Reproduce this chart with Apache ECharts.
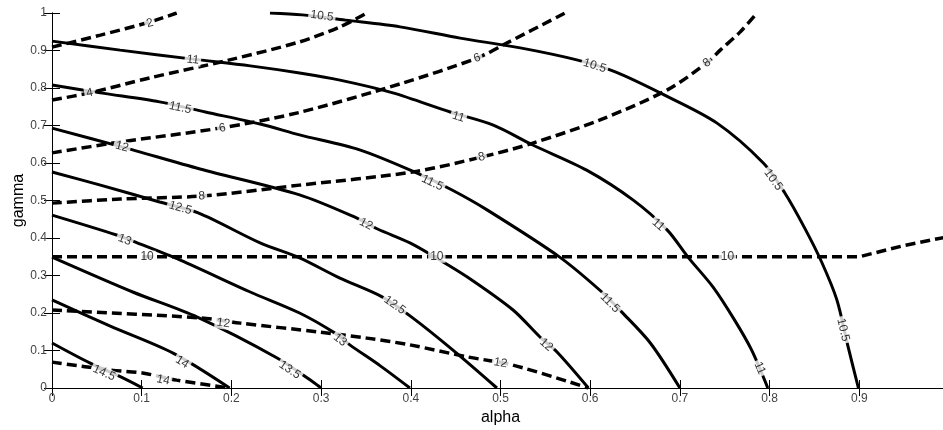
<!DOCTYPE html>
<html>
<head>
<meta charset="utf-8">
<script src="https://cdn.jsdelivr.net/npm/echarts@6/dist/echarts.min.js"></script>
<style>
  html, body { margin: 0; padding: 0; background: #fff; }
  #main { width: 943px; height: 430px; }
</style>
</head>
<body>
<div id="main"></div>
<script>
// contour levels drawn solid
const solidLevels = ['10.5', '11', '11.5', '12', '12.5', '13', '13.5', '14', '14.5']
const solid105 = [[0.243, 1.0], [0.279, 0.995], [0.327, 0.981], [0.388, 0.963], [0.455, 0.933], [0.522, 0.907], [0.585, 0.875], [0.628, 0.843], [0.683, 0.781], [0.741, 0.707], [0.793, 0.600], [0.817, 0.520], [0.839, 0.427], [0.858, 0.336], [0.875, 0.235], [0.887, 0.115], [0.899, 0]]
const solid11 = [[0, 0.925], [0.076, 0.901], [0.157, 0.877], [0.221, 0.859], [0.276, 0.840], [0.321, 0.821], [0.380, 0.787], [0.444, 0.736], [0.492, 0.701], [0.536, 0.648], [0.596, 0.581], [0.648, 0.501], [0.686, 0.421], [0.709, 0.349], [0.737, 0.269], [0.761, 0.181], [0.780, 0.101], [0.798, 0]]
const solid115 = [[0, 0.808], [0.054, 0.787], [0.120, 0.763], [0.171, 0.736], [0.232, 0.704], [0.276, 0.675], [0.343, 0.635], [0.407, 0.573], [0.446, 0.528], [0.485, 0.475], [0.566, 0.349], [0.613, 0.256], [0.635, 0.203], [0.667, 0.12], [0.700, 0]]
const solid12 = [[0, 0.693], [0.078, 0.643], [0.165, 0.584], [0.276, 0.515], [0.340, 0.453], [0.363, 0.424], [0.399, 0.387], [0.427, 0.349], [0.463, 0.296], [0.514, 0.208], [0.544, 0.136], [0.563, 0.096], [0.598, 0]]
const solid125 = [[0, 0.576], [0.054, 0.541], [0.120, 0.496], [0.163, 0.467], [0.232, 0.387], [0.276, 0.347], [0.321, 0.293], [0.368, 0.243], [0.401, 0.189], [0.447, 0.101], [0.496, 0]]
const solid13 = [[0, 0.461], [0.072, 0.408], [0.095, 0.387], [0.143, 0.341], [0.221, 0.256], [0.276, 0.2], [0.315, 0.147], [0.332, 0.115], [0.366, 0.059], [0.399, 0]]
const solid135 = [[0, 0.349], [0.090, 0.256], [0.162, 0.189], [0.251, 0.080], [0.291, 0.016], [0.3, 0]]
const solid14 = [[0, 0.235], [0.065, 0.165], [0.135, 0.093], [0.198, 0]]
const solid145 = [[0, 0.12], [0.042, 0.067], [0.079, 0.027], [0.101, 0]]
const solidLines = [solid105, solid11, solid115, solid12, solid125, solid13, solid135, solid14, solid145]
// where the in-line labels sit, per solid level
const solidLabelPos = [
  [[0.301, 0.992], [0.605, 0.859], [0.804, 0.555], [0.882, 0.155]],
  [[0.157, 0.875], [0.453, 0.723], [0.676, 0.435], [0.789, 0.053]],
  [[0.143, 0.747], [0.424, 0.547], [0.622, 0.227]],
  [[0.078, 0.643], [0.35, 0.437], [0.551, 0.115]],
  [[0.143, 0.48], [0.382, 0.221]],
  [[0.081, 0.395], [0.321, 0.128]],
  [[0.265, 0.048]],
  [[0.145, 0.069]],
  [[0.058, 0.04]]
]

// contour levels drawn dashed
const dashedLevels = ['2', '4', '6', '8', '10', '12', '14']
const dashed2 = [[0, 0.909], [0.054, 0.941], [0.109, 0.976], [0.139, 1.0]]
const dashed4 = [[0, 0.768], [0.042, 0.787], [0.109, 0.827], [0.198, 0.875], [0.276, 0.923], [0.321, 0.963], [0.351, 1.0]]
const dashed6 = [[0, 0.627], [0.076, 0.656], [0.187, 0.693], [0.276, 0.735], [0.388, 0.811], [0.474, 0.88], [0.507, 0.92], [0.572, 1.0]]
const dashed8 = [[0, 0.493], [0.076, 0.504], [0.167, 0.512], [0.276, 0.541], [0.402, 0.576], [0.479, 0.616], [0.536, 0.653], [0.611, 0.715], [0.686, 0.795], [0.730, 0.867], [0.745, 0.901], [0.767, 0.949], [0.786, 1.0]]
const dashed10 = [[0, 0.35], [0.9, 0.35], [0.95, 0.38], [1.0, 0.404]]
const dashed12 = [[0, 0.208], [0.165, 0.187], [0.21, 0.173], [0.299, 0.149], [0.351, 0.133], [0.399, 0.115], [0.463, 0.083], [0.514, 0.061], [0.598, 0]]
const dashed14 = [[0, 0.069], [0.065, 0.048], [0.101, 0.04], [0.139, 0.021], [0.198, 0]]
const dashedLines = [dashed2, dashed4, dashed6, dashed8, dashed10, dashed12, dashed14]
const dashedLabelPos = [
  [[0.109, 0.973]],
  [[0.042, 0.787]],
  [[0.19, 0.693], [0.474, 0.88]],
  [[0.167, 0.512], [0.479, 0.616], [0.73, 0.867]],
  [[0.106, 0.35], [0.429, 0.35], [0.753, 0.35]],
  [[0.191, 0.173], [0.5, 0.067]],
  [[0.124, 0.021]]
]

const FONT = '"Liberation Sans", Arial, sans-serif'
let chart = echarts.init(document.getElementById('main'))

let lineSeries = []
solidLines.forEach(pts => {
  lineSeries.push({
    type: 'line', data: pts, showSymbol: false, silent: true, smooth: 0.3,
    lineStyle: { color: '#000', width: 3 }, z: 2
  })
})
dashedLines.forEach((pts, i) => {
  lineSeries.push({
    type: 'line', data: pts, showSymbol: false, silent: true,
    smooth: dashedLevels[i] === '10' ? false : 0.3,
    lineStyle: { color: '#000', width: 3.5, type: [10, 5] }, z: 2
  })
})

// every label with the line it belongs to
let allLabels = []
solidLabelPos.forEach((list, i) => list.forEach(p => allLabels.push({ name: solidLevels[i], pos: p, line: solidLines[i] })))
dashedLabelPos.forEach((list, i) => list.forEach(p => allLabels.push({ name: dashedLevels[i], pos: p, line: dashedLines[i] })))

function labelSeries (rotations) {
  return {
    type: 'scatter', symbolSize: 0, silent: true, z: 5,
    data: allLabels.map((l, k) => ({
      name: l.name, value: l.pos,
      label: { rotate: rotations ? rotations[k] : 0 }
    })),
    label: {
      show: true, position: 'inside', formatter: '{b}',
      color: '#000', fontFamily: FONT, fontSize: 12,
      backgroundColor: '#fff', padding: [0, 2]
    }
  }
}

let axisCommon = {
  type: 'value', min: 0, max: 1, interval: 0.1,
  splitLine: { show: false },
  axisLine: { lineStyle: { color: '#000', width: 1 } },
  axisTick: { inside: true, length: 8, lineStyle: { color: '#000' } }
}

let opts = {
  animation: false,
  backgroundColor: '#fff',
  grid: { left: 52, top: 13, width: 897, height: 375, outerBoundsMode: 'none' },
  xAxis: [
    Object.assign({}, axisCommon, {
      position: 'bottom',
      name: 'alpha', nameLocation: 'middle', nameGap: 21,
      nameTextStyle: { color: '#000', fontSize: 16, fontFamily: FONT },
      axisLabel: { color: '#444', fontSize: 12, fontFamily: FONT, margin: 5, showMaxLabel: false }
    }),
    Object.assign({}, axisCommon, { position: 'top', axisLabel: { show: false } })
  ],
  yAxis: [
    Object.assign({}, axisCommon, {
      position: 'left',
      name: 'gamma', nameLocation: 'middle', nameGap: 25, nameMoveOverlap: false,
      nameTextStyle: { color: '#000', fontSize: 16, fontFamily: FONT },
      axisLabel: { color: '#444', fontSize: 12, fontFamily: FONT, margin: 5 }
    }),
    Object.assign({}, axisCommon, { position: 'right', axisLabel: { show: false } })
  ],
  series: lineSeries.concat([labelSeries(null)])
}
chart.setOption(opts)

// turn each label along its contour
function segDist (p, a, b) {
  let dx = b[0] - a[0], dy = b[1] - a[1]
  let t = ((p[0] - a[0]) * dx + (p[1] - a[1]) * dy) / (dx * dx + dy * dy || 1)
  t = Math.max(0, Math.min(1, t))
  let x = a[0] + t * dx - p[0], y = a[1] + t * dy - p[1]
  return x * x + y * y
}
let rotations = allLabels.map(l => {
  let p = chart.convertToPixel({ seriesIndex: 0 }, l.pos)
  let best = null, bd = Infinity
  for (let i = 0; i < l.line.length - 1; i++) {
    let a = chart.convertToPixel({ seriesIndex: 0 }, l.line[i])
    let b = chart.convertToPixel({ seriesIndex: 0 }, l.line[i + 1])
    let d = segDist(p, a, b)
    if (d < bd) { bd = d; best = [a, b] }
  }
  let deg = Math.atan2(best[1][1] - best[0][1], best[1][0] - best[0][0]) * 180 / Math.PI
  if (deg > 90) deg -= 180
  if (deg < -90) deg += 180
  return -deg
})
opts.series = lineSeries.concat([labelSeries(rotations)])
chart.setOption(opts, true)
</script>
</body>
</html>
